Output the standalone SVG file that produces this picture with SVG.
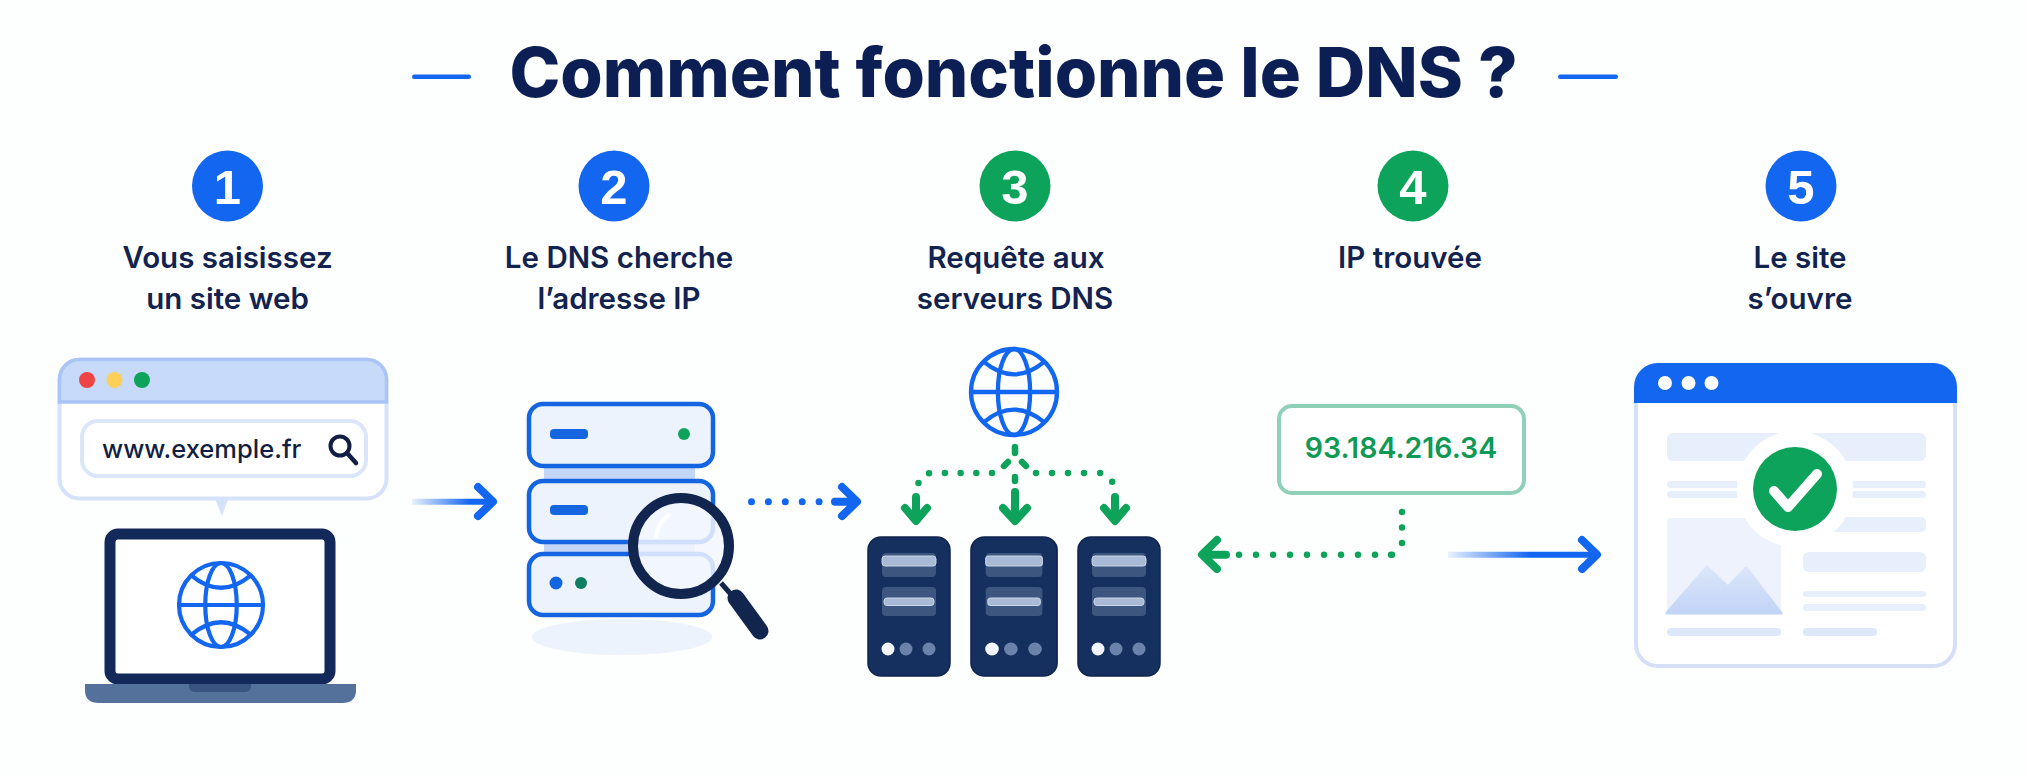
<svg xmlns="http://www.w3.org/2000/svg" width="2027" height="776" viewBox="0 0 2027 776">
<style>
text{font-family:"Inter","Liberation Sans",Arial,sans-serif}
.title{font-size:68.500px;font-weight:800;fill:#0c1f55;text-anchor:middle}
.num{font-size:49px;font-weight:700;fill:#fff;text-anchor:middle;font-family:"Liberation Sans",Arial,sans-serif}
.lab{font-size:29.500px;font-weight:600;fill:#12234f;text-anchor:middle}
.blue{fill:#1266f0}.green{fill:#0ea35a}
.gl{fill:none;stroke:#1266f0;stroke-linecap:round}
.sv{fill:#edf3fd;stroke:#1565e0;stroke-width:4.5}
.conn{fill:#c4d6f8}
.rack{fill:#15305e;stroke:#0f2450;stroke-width:1.5}
.pan{fill:#3d5680}
.bar{fill:#a9bad6;stroke:#c9d5e8;stroke-width:1}
.ln{fill:#e7eefc}
.dot-b{fill:none;stroke:#1266f0;stroke-width:7;stroke-linecap:round}
.dot-g{fill:none;stroke:#0ea35a;stroke-width:6.500;stroke-linecap:round}
.head-b{fill:none;stroke:#1266f0;stroke-width:8;stroke-linecap:round;stroke-linejoin:round}
.head-g{fill:none;stroke:#0ea35a;stroke-width:8;stroke-linecap:round;stroke-linejoin:round}
</style>
<defs>
<g id="globe" class="gl" stroke-width="2">
<circle r="20"/>
<ellipse rx="7.500" ry="20"/>
<path d="M-20 0H20M-14-14Q0-2.400 14-14M-14 14Q0 2.400 14 14"/>
</g>
<linearGradient id="g1" gradientUnits="userSpaceOnUse" x1="412" y1="0" x2="470" y2="0"><stop offset="0" stop-color="#1266f0" stop-opacity=".08"/><stop offset="1" stop-color="#1266f0"/></linearGradient>
<linearGradient id="g2" gradientUnits="userSpaceOnUse" x1="1448" y1="0" x2="1530" y2="0"><stop offset="0" stop-color="#1266f0" stop-opacity=".08"/><stop offset="1" stop-color="#1266f0"/></linearGradient>
<linearGradient id="mt" x1="0" y1="0" x2="0" y2="1"><stop offset="0" stop-color="#dce6fa"/><stop offset="1" stop-color="#c2d4f6"/></linearGradient>
<g id="rk">
<rect x="0" y="0" width="82" height="139" rx="13" class="rack"/>
<rect x="14" y="16" width="54" height="24" rx="4" class="pan"/>
<rect x="14" y="50" width="54" height="29" rx="4" class="pan"/>
<rect x="14" y="19" width="54" height="10" rx="3" class="bar"/>
<rect x="16" y="61" width="50" height="7.500" rx="3" class="bar"/>
<circle cx="20" cy="112" r="6.500" fill="#f2f5fa"/>
<circle cx="38" cy="112" r="6.500" fill="#6b83ab"/>
<circle cx="61" cy="112" r="6.500" fill="#6b83ab"/>
</g>
</defs>
<rect width="2027" height="776" fill="#fdfefe"/>

<g id="title">
<rect x="412" y="74.500" width="59" height="4.500" rx="2.200" class="blue"/>
<text x="1013.500" y="97" class="title">Comment fonctionne le DNS ?</text>
<rect x="1558" y="74.500" width="60" height="4.500" rx="2.200" class="blue"/>
</g>

<g id="step1">
<circle cx="227.500" cy="186" r="35.500" class="blue"/>
<text x="227.500" y="203.500" class="num">1</text>
<text x="227.500" y="268" class="lab">Vous saisissez</text>
<text x="227.500" y="309" class="lab">un site web</text>
<path d="M215 499H228L222 516Z" fill="#d6e2fa"/>
<rect x="59.500" y="359.500" width="327" height="139" rx="20" fill="#fff" stroke="#d6e2fa" stroke-width="4"/>
<path d="M59.500 402V379.500a20 20 0 0 1 20-20H366.500a20 20 0 0 1 20 20V402Z" fill="#c8daf9" stroke="#a9c4f5" stroke-width="3.500"/>
<circle cx="87" cy="380" r="8" fill="#ef4444"/>
<circle cx="114.500" cy="380" r="8" fill="#fbcf58"/>
<circle cx="142" cy="380" r="8" fill="#0ea35a"/>
<rect x="82" y="421" width="284" height="55" rx="16" fill="#fff" stroke="#dce6fa" stroke-width="4"/>
<text x="102" y="458" font-size="25.500" font-weight="500" fill="#111f45">www.exemple.fr</text>
<circle cx="340" cy="446" r="9.500" fill="none" stroke="#111f45" stroke-width="4"/>
<path d="M347 453L356 463" stroke="#111f45" stroke-width="4.500" stroke-linecap="round"/>
<rect x="110" y="534" width="220" height="145" rx="8" fill="#fff" stroke="#12295a" stroke-width="11"/>
<path d="M85 684H356V690Q356 703 342 703H99Q85 703 85 690Z" fill="#54719c"/>
<path d="M189 684H251V686Q251 692 244 692H196Q189 692 189 686Z" fill="#3a5482"/>
<use href="#globe" transform="translate(221 605) scale(2.100)"/>
</g>

<g id="step2">
<circle cx="614" cy="186" r="35.500" class="blue"/>
<text x="614" y="203.500" class="num">2</text>
<text x="619" y="268" class="lab">Le DNS cherche</text>
<text x="619" y="309" class="lab">l’adresse IP</text>
<ellipse cx="622" cy="637" rx="90" ry="18" fill="#edf3fd"/>
<rect x="544" y="464" width="151" height="18" class="conn"/>
<rect x="544" y="540" width="151" height="15" class="conn"/>
<rect x="529" y="404" width="184" height="62" rx="14" class="sv"/>
<rect x="529" y="481" width="184" height="61" rx="14" class="sv"/>
<rect x="529" y="554" width="184" height="61" rx="14" class="sv"/>
<rect x="550" y="429" width="38" height="10" rx="4" fill="#1565e0"/>
<rect x="550" y="505" width="38" height="10" rx="4" fill="#1565e0"/>
<circle cx="684" cy="434" r="6" fill="#0ea35a"/>
<circle cx="556" cy="583" r="6.500" fill="#1565e0"/>
<circle cx="581" cy="583" r="6" fill="#0f7d62"/>
<circle cx="681" cy="546" r="48" fill="#f2f6fe" fill-opacity=".85" stroke="#12254f" stroke-width="10"/>
<path d="M656 536Q659 522 668 515" fill="none" stroke="#fff" stroke-width="4" stroke-linecap="round"/>
<path d="M721 583L736 600" stroke="#12254f" stroke-width="5"/>
<path d="M736 598L760 631" stroke="#12254f" stroke-width="17" stroke-linecap="round"/>
</g>

<g id="step3">
<circle cx="1015" cy="186" r="35.500" class="green"/>
<text x="1015" y="203.500" class="num">3</text>
<text x="1016" y="268" class="lab">Requête aux</text>
<text x="1015" y="309" class="lab">serveurs DNS</text>
<use href="#globe" transform="translate(1014 392) scale(2.150)"/>
<use href="#rk" transform="translate(868 537)"/>
<use href="#rk" transform="translate(971 537) scale(1.050 1)"/>
<use href="#rk" transform="translate(1078 537)"/>
</g>

<g id="step4">
<circle cx="1413" cy="186" r="35.500" class="green"/>
<text x="1413" y="203.500" class="num">4</text>
<text x="1410" y="268" class="lab">IP trouvée</text>
<rect x="1279" y="406" width="245" height="87" rx="13" fill="#fff" stroke="#8fd0b8" stroke-width="4"/>
<text x="1401" y="458" font-size="28.500" font-weight="600" fill="#0e9a55" text-anchor="middle">93.184.216.34</text>
</g>

<g id="step5">
<circle cx="1801" cy="186" r="35.500" class="blue"/>
<text x="1801" y="203.500" class="num">5</text>
<text x="1800" y="268" class="lab">Le site</text>
<text x="1800" y="309" class="lab">s’ouvre</text>
<rect x="1636" y="365" width="319" height="301" rx="22" fill="#fff" stroke="#d5dff8" stroke-width="4"/>
<path d="M1634 403V387a24 24 0 0 1 24-24H1933a24 24 0 0 1 24 24V403Z" fill="#1266f0"/>
<circle cx="1665" cy="383" r="7" fill="#fff"/>
<circle cx="1688.500" cy="383" r="7" fill="#fff"/>
<circle cx="1711.500" cy="383" r="7" fill="#fff"/>
<rect x="1667" y="433" width="259" height="28" rx="6" class="ln"/>
<rect x="1667" y="481" width="259" height="7" rx="3.500" class="ln"/>
<rect x="1667" y="491" width="259" height="7" rx="3.500" class="ln"/>
<rect x="1788" y="517" width="138" height="15" rx="5" class="ln"/>
<rect x="1667" y="518" width="114" height="95" rx="4" fill="#edf2fc"/>
<path d="M1667 613L1707 567L1728 587L1746 568L1781 613Z" fill="url(#mt)" stroke="url(#mt)" stroke-width="3" stroke-linejoin="round"/>
<circle cx="1795" cy="489" r="58" fill="#fff"/>
<circle cx="1795" cy="489" r="42" class="green"/>
<path d="M1774 491L1788 507L1817 474" fill="none" stroke="#fff" stroke-width="10" stroke-linecap="round" stroke-linejoin="round"/>
<rect x="1803" y="552" width="123" height="20" rx="6" class="ln"/>
<rect x="1803" y="591" width="123" height="6" rx="3" class="ln"/>
<rect x="1803" y="604" width="123" height="7" rx="3.500" class="ln"/>
<rect x="1667" y="628" width="114" height="8" rx="4" fill="#dfe8fa"/>
<rect x="1803" y="628" width="74" height="8" rx="4" fill="#dfe8fa"/>
</g>

<g id="connectors">
<path d="M412 501.700H490" stroke="url(#g1)" stroke-width="6" fill="none"/>
<path d="M478 487L493 501.700L478 516" class="head-b"/>
<path d="M751.500 501.700H825" class="dot-b" stroke-dasharray="0 16.900"/>
<path d="M835 501.700H856M842 487L857 501.700L842 516" class="head-b"/>
<path d="M1015 447V453M1008 462L1004 466M1022 462L1026 466M1015 477V481" class="dot-g"/>
<path d="M992 473H932Q919 473 918 486" class="dot-g" stroke-dasharray="0 15.700"/>
<path d="M1036 473H1098Q1112 473 1113 486" class="dot-g" stroke-dasharray="0 16"/>
<path d="M916 497V520M905 508L916 521L927 508" class="head-g"/>
<path d="M1015 492V520M1003 508L1015 521L1027 508" class="head-g"/>
<path d="M1115 497V520M1104 508L1115 521L1126 508" class="head-g"/>
<path d="M1402 512V544" class="dot-g" stroke-dasharray="0 15.500"/>
<path d="M1391 554.700H1392" class="dot-g"/>
<path d="M1375 554.700H1238" class="dot-g" stroke-dasharray="0 17"/>
<path d="M1203 554.700H1226M1217 540L1202 554.700L1217 569" class="head-g"/>
<path d="M1448 554.700H1596" stroke="url(#g2)" stroke-width="6" fill="none"/>
<path d="M1582 540L1597 554.700L1582 569" class="head-b"/>
</g>
</svg>
